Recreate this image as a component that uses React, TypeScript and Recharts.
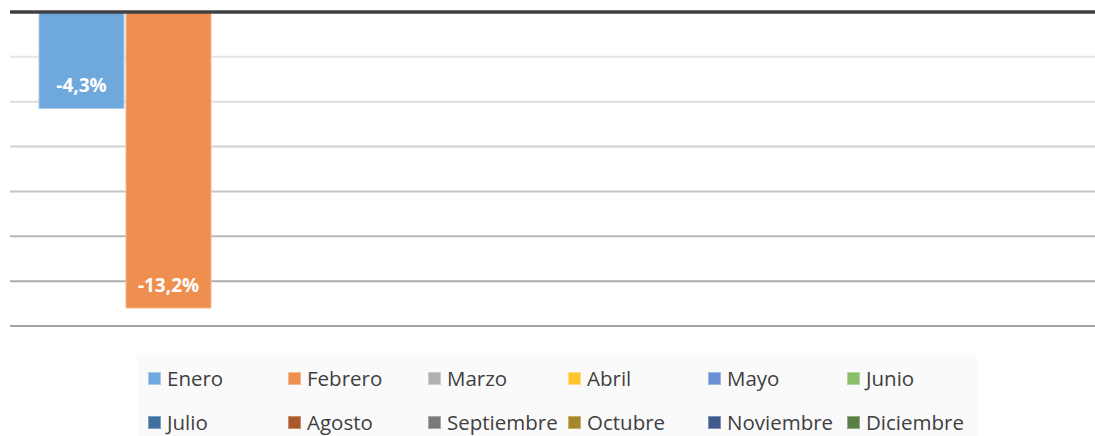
import React from 'react';
import { BarChart, Bar, XAxis, YAxis, ReferenceLine, LabelList, CartesianGrid } from 'recharts';

const months = [
  'Enero', 'Febrero', 'Marzo', 'Abril', 'Mayo', 'Junio',
  'Julio', 'Agosto', 'Septiembre', 'Octubre', 'Noviembre', 'Diciembre',
];
const values: (number | null)[] = [-4.3, -13.2, null, null, null, null, null, null, null, null, null, null];
const yTicks = [0, -2, -4, -6, -8, -10, -12, -14];

const colors = [
  '#6fa8dc', '#ef8f4f', '#b0b0b0', '#ffc72c', '#6a8fd4', '#8bbf6a',
  '#40709e', '#a95a2b', '#7a7a7a', '#a8862a', '#3f5b8e', '#5c7f45',
];
const strokes = [
  '#a9cbeb', '#f5b88c', '#cccccc', '#ffdc80', '#a0b6e3', '#b3d69e',
  '#7f9fc0', '#c98f6d', '#a8a8a8', '#c8b070', '#7f91b5', '#93ab85',
];
// lines get darker going down
const gridColors = ['#404040', '#e6e6e6', '#dedede', '#d2d2d2', '#c4c4c4', '#b8b8b8', '#acacac', '#a2a2a2'];

const row: Record<string, any> = { name: '2020' };
months.forEach((m, i) => { row[m] = values[i]; });
const data = [row];

const fmt = (v: number) => v.toFixed(1).replace('.', ',') + '%';

const PLOT_TOP = 12;
const PLOT_H = 314;

const gridLine = (props: any) => {
  const { x1, x2, y1 } = props;
  const idx = Math.round(((Number(y1) - PLOT_TOP) / PLOT_H) * 7);
  if (idx <= 0) return <g key={props.key} />;
  return (
    <line key={props.key} x1={x1} x2={x2} y1={y1} y2={y1}
      stroke={gridColors[Math.min(idx, 7)]} strokeWidth={2} />
  );
};

const renderLabel = (props: any) => {
  const { x, y, width, height, value } = props;
  if (value == null) return null;
  const bottom = Math.max(Number(y), Number(y) + Number(height));
  return (
    <text
      x={Number(x) + Number(width) / 2}
      y={bottom - 23}
      fill="#ffffff"
      fontSize={19}
      fontWeight="bold"
      fontFamily="'Open Sans', sans-serif"
      textAnchor="middle"
      dominantBaseline="central"
    >
      {fmt(value)}
    </text>
  );
};

const legendCols = [148, 288, 428, 568, 708, 847];

export default function App() {
  return (
    <div style={{ position: 'absolute', left: 0, top: 0, width: 1095, height: 436, overflow: 'hidden', background: '#fff' }}>
      <BarChart
        width={1110}
        height={436}
        data={data}
        margin={{ top: PLOT_TOP, right: 0, left: 10, bottom: 436 - PLOT_TOP - PLOT_H }}
        barSize={85}
        barGap={2}
      >
        <XAxis dataKey="name" hide />
        <YAxis domain={[-14, 0]} ticks={yTicks} hide />
        <CartesianGrid vertical={false} horizontal={gridLine} />
        {months.map((m, i) => (
          <Bar key={m} dataKey={m} fill={colors[i]} stroke={strokes[i]} strokeWidth={1} isAnimationActive={false}>
            <LabelList dataKey={m} content={renderLabel} />
          </Bar>
        ))}
        <ReferenceLine y={0} stroke="#404040" strokeWidth={3.5} />
      </BarChart>
      <div style={{ position: 'absolute', left: 137, top: 355, width: 840, height: 81, background: '#fafafa' }} />
      {months.map((m, i) => {
        const col = i % 6;
        const r = Math.floor(i / 6);
        return (
          <div
            key={m}
            style={{
              position: 'absolute',
              left: legendCols[col],
              top: r === 0 ? 365 : 409,
              height: 26,
              display: 'flex',
              alignItems: 'center',
              fontFamily: "'Open Sans', sans-serif",
              fontSize: 20.5,
              color: '#404040',
              whiteSpace: 'nowrap',
            }}
          >
            <span style={{ display: 'inline-block', width: 11, height: 11, background: colors[i], border: `1px solid ${strokes[i]}`, marginRight: 6 }} />
            {m}
          </div>
        );
      })}
    </div>
  );
}
